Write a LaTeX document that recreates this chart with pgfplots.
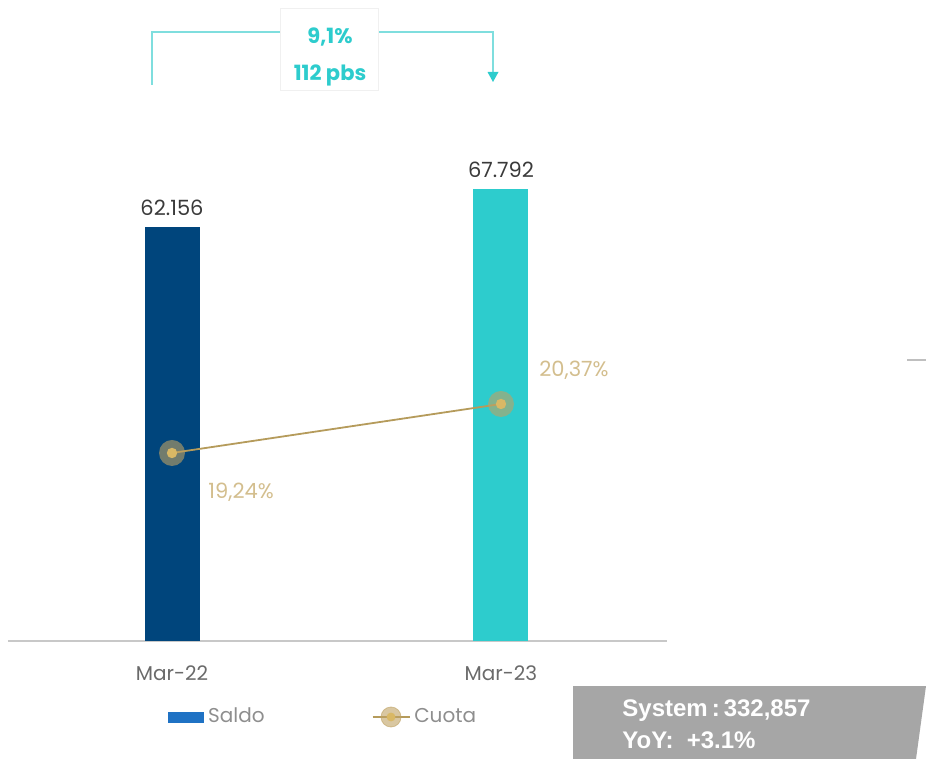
\documentclass[border=0pt]{standalone}
\usepackage{pgfplots}
\pgfplotsset{compat=1.18}
\usepackage{fontspec}
\setmainfont{Poppins}
\newfontfamily\sysfont{Liberation Sans}
\definecolor{barblue}{HTML}{00457C}
\definecolor{barteal}{HTML}{2DCCCD}
\definecolor{saldoleg}{HTML}{1F72C4}
\definecolor{cuotaline}{HTML}{B59B5B}
\definecolor{cuotadot}{HTML}{D9B865}
\definecolor{cuotahalo}{HTML}{BFA263}
\definecolor{cuotalab}{HTML}{D3BE8E}
\definecolor{ticklab}{HTML}{6A6A6A}
\definecolor{vallab}{HTML}{3A3A3A}
\definecolor{legtext}{HTML}{8E8E8E}
\definecolor{annteal}{HTML}{2DCCCD}
\definecolor{annline}{HTML}{7FDEDE}
\definecolor{boxgray}{HTML}{A6A6A6}
\definecolor{axisgray}{HTML}{C8C8C8}
\pgfdeclareplotmark{halo}{%
  \begin{pgfscope}
  \pgfsetfillopacity{0.6}\pgfsetfillcolor{cuotahalo}%
  \pgfpathcircle{\pgfpointorigin}{6.5pt}\pgfusepathqfill
  \end{pgfscope}
  \begin{pgfscope}
  \pgfsetfillcolor{cuotadot}%
  \pgfpathcircle{\pgfpointorigin}{2.6pt}\pgfusepathqfill
  \end{pgfscope}}
\begin{document}
\begin{tikzpicture}
\useasboundingbox (0pt,0pt) rectangle (463pt,-379.5pt);
\begin{axis}[
  at={(4pt,-320.5pt)}, anchor=south west,
  scale only axis, width=329.5pt, height=250pt,
  xmin=-0.4985, xmax=1.5046, ymin=0, ymax=75000,
  axis x line=bottom, axis y line=none,
  axis line style={draw=axisgray, line width=0.8pt, -},
  xtick={0,1}, xticklabels={Mar-22,Mar-23}, major tick length=0pt,
  xticklabel style={font=\fontsize{10}{12}\selectfont, text=ticklab, yshift=-9pt},
  ytick=\empty, clip=false,
  legend columns=2,
  legend style={at={(0.2428,-0.152)}, anchor=west, draw=none, fill=none,
    inner sep=0pt, font=\fontsize{10}{12}\selectfont, text=legtext,
    /tikz/every even column/.append style={column sep=51.5pt}},
]
\addplot[ybar, bar width=27.5pt, bar shift=0pt, fill=barblue, draw=none,
  nodes near coords, point meta=explicit symbolic,
  every node near coord/.append style={font=\fontsize{10.5}{12}\selectfont, text=vallab, yshift=2pt}, forget plot]
  coordinates {(0,62156) [62.156]};
\addplot[ybar, bar width=27.5pt, bar shift=0pt, fill=barteal, draw=none,
  nodes near coords, point meta=explicit symbolic,
  every node near coord/.append style={font=\fontsize{10.5}{12}\selectfont, text=vallab, yshift=2pt}, forget plot]
  coordinates {(1,67792) [67.792]};
\addlegendimage{legend image code/.code={\fill[saldoleg] (0pt,-2.5pt) rectangle (17.5pt,2.5pt);}}
\addlegendentry{Saldo}
\addlegendimage{legend image code/.code={
  \draw[cuotaline, line width=0.8pt] (0pt,0pt) -- (18.5pt,0pt);
  \fill[cuotahalo, opacity=0.6] (9.25pt,0pt) circle (5pt);
  \fill[cuotadot] (9.25pt,0pt) circle (2pt);}}
\addlegendentry{Cuota}
\end{axis}
\begin{axis}[
  at={(4pt,-320.5pt)}, anchor=south west,
  scale only axis, width=329.5pt, height=250pt,
  xmin=-0.4985, xmax=1.5046, ymin=14.904, ymax=26.435,
  hide axis, clip=false,
]
\addplot[cuotaline, line width=0.9pt, mark=halo] coordinates {(0,19.24) (1,20.37)};
\node[anchor=west, text=cuotalab, font=\fontsize{10.5}{12}\selectfont, xshift=18pt, yshift=-19.5pt, inner sep=0pt] at (axis cs:0,19.24) {19,24\%};
\node[anchor=west, text=cuotalab, font=\fontsize{10.5}{12}\selectfont, xshift=19pt, yshift=17pt, inner sep=0pt] at (axis cs:1,20.37) {20,37\%};
\end{axis}
\begin{scope}[x=0.5pt,y=-0.5pt]
% top annotation
\draw[annline, line width=0.7pt] (152,85) -- (152,32) -- (280,32);
\draw[annline, line width=0.7pt] (378,32) -- (493,32) -- (493,74);
\fill[annteal] (487.5,72) -- (498.5,72) -- (493,82) -- cycle;
\draw[draw=black!6, fill=white] (280,8) rectangle (378,90);
\node[text=annteal, font=\bfseries\fontsize{10.5}{12}\selectfont] at (330,37) {9,1\%};
\node[text=annteal, font=\bfseries\fontsize{10.5}{12}\selectfont] at (330,75) {112 pbs};
% right artifact
\draw[black!25, line width=0.7pt] (907,360) -- (926,360);
% system box
\fill[boxgray] (573,686) -- (926,686) -- (916,759) -- (573,759) -- cycle;
\node[anchor=west, text=white, font=\sysfont\bfseries\fontsize{12}{14}\selectfont, inner sep=0pt] at (622,711) {System\,:\,332,857};
\node[anchor=west, text=white, font=\sysfont\bfseries\fontsize{12}{14}\selectfont, inner sep=0pt] at (622,740) {YoY:\ \ +3.1\%};
\end{scope}
\end{tikzpicture}
\end{document}
